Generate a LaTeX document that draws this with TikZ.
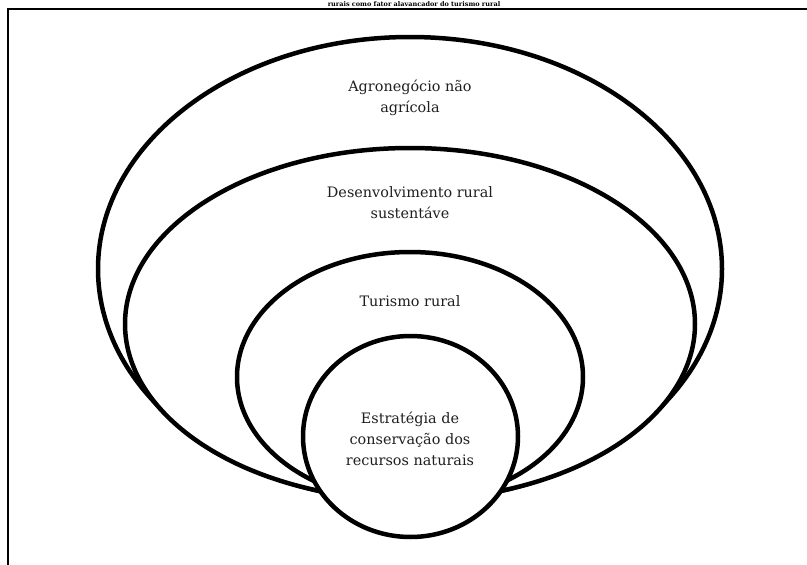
\documentclass[tikz,border=0pt]{standalone}
\usepackage{fontspec}
\setmainfont{DejaVu Serif}
\usetikzlibrary{shapes.geometric}

\begin{document}
\begin{tikzpicture}[
    x=1pt, y=-1pt,
    ring/.style={ellipse, draw, line width=4.5pt, fill=white, inner sep=0pt},
    ring_text/.style={align=center, anchor=base, font=\fontsize{14.4}{21}\selectfont, text=black!88},
    frame_line/.style={line width=1.8pt}
]
\useasboundingbox (0,0) rectangle (807,565);
\clip (0,0) rectangle (807,565);

% Frame and caption above it
\node[font=\bfseries\fontsize{6.5}{8}\selectfont, anchor=base, inner sep=0pt] (caption) at (414,6.5) {rurais como fator alavancador do turismo rural};
\draw[frame_line] (8,565) -- (8,9) -- (807,9);

% Nested ellipses, all resting on the same bottom
\node[ring, minimum width=624pt, minimum height=464pt] (agro) at (410,269) {};
\node[ring, minimum width=570pt, minimum height=352pt] (desenv) at (410,324) {};
\node[ring, minimum width=346pt, minimum height=250pt] (turismo) at (410,377) {};
\node[ring, minimum width=215pt, minimum height=201pt] (estrat) at (410.5,436.5) {};

% Labels (base = last line)
\node[ring_text] (agro_text) at (410,112) {Agronegócio não\\agrícola};
\node[ring_text] (desenv_text) at (410,218) {Desenvolvimento rural\\sustentáve};
\node[ring_text] (turismo_text) at (410,306) {Turismo rural};
\node[ring_text] (estrat_text) at (410,465) {Estratégia de\\conservação dos\\recursos naturais};

\end{tikzpicture}
\end{document}
